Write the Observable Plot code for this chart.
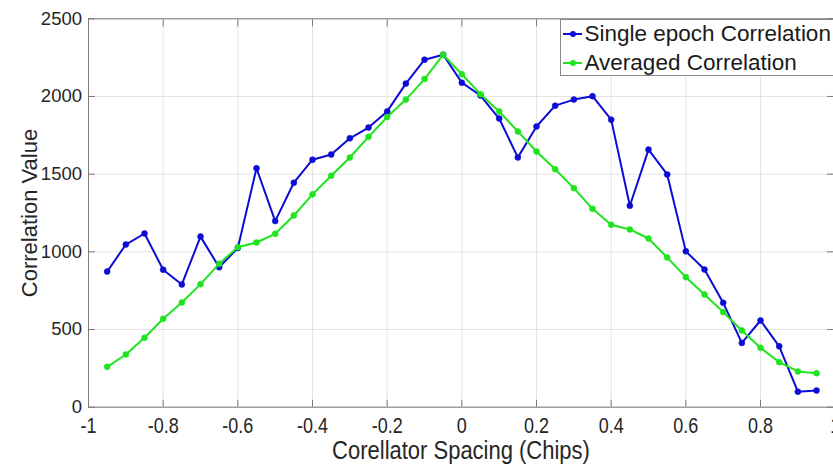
<!DOCTYPE html>
<html>
<head>
<meta charset="utf-8">
<script src="https://cdn.jsdelivr.net/npm/d3@7"></script>
<script src="https://cdn.jsdelivr.net/npm/@observablehq/plot@0.6"></script>
<style>
  html, body { margin: 0; padding: 0; background: #fff; overflow: hidden; }
  #wrap { position: relative; width: 833px; height: 466px; overflow: hidden; }
  #wrap svg { font-family: "Liberation Sans", Arial, sans-serif; }
  .legend {
    position: absolute; left: 559.5px; top: 18.5px; width: 300px; height: 57px;
    border: 1px solid #8a8a8a; background: #fff; box-sizing: border-box;
    font-family: "Liberation Sans", Arial, sans-serif; font-size: 22.5px; color: #1a1a1a;
  }
  .legend .row { position: absolute; left: 0; height: 28px; display: flex; align-items: center; white-space: nowrap; }
  .legend svg { display: block; margin-left: 1px; margin-right: 3px; }
</style>
</head>
<body>
<div id="wrap"></div>
<script>
// Correlator spacing in chips
const spacing = [-0.95, -0.9, -0.85, -0.8, -0.75, -0.7, -0.65, -0.6, -0.55, -0.5, -0.45, -0.4, -0.35, -0.3, -0.25, -0.2, -0.15, -0.1, -0.05,
  0, 0.05, 0.1, 0.15, 0.2, 0.25, 0.3, 0.35, 0.4, 0.45, 0.5, 0.55, 0.6, 0.65, 0.7, 0.75, 0.8, 0.85, 0.9, 0.95];
// Correlation from a single epoch
const single = [873, 1047, 1118, 885, 790, 1098, 901, 1025, 1538, 1198, 1445, 1593, 1626, 1731, 1800, 1904, 2083, 2237, 2269,
  2089, 2006, 1858, 1608, 1807, 1941, 1980, 2002, 1851, 1297, 1658, 1498, 1003, 886, 672, 414, 558, 392, 100, 107];
// Correlation averaged over epochs
const averaged = [260, 339, 447, 569, 674, 792, 923, 1030, 1060, 1116, 1234, 1370, 1490, 1607, 1740, 1868, 1980, 2112, 2269,
  2143, 2015, 1903, 1775, 1646, 1532, 1410, 1277, 1174, 1144, 1086, 964, 837, 725, 612, 494, 382, 290, 230, 219];

const xTicks = [-1, -0.8, -0.6, -0.4, -0.2, 0, 0.2, 0.4, 0.6, 0.8, 1];
const yTicks = [0, 500, 1000, 1500, 2000, 2500];
const seriesNames = ["Single epoch Correlation", "Averaged Correlation"];
const colors = ["#0c0cd6", "#1ee41e"];
const xTitle = "Corellator Spacing (Chips)";
const yTitle = "Correlation Value";

const singleRows = spacing.map((x, i) => ({x, y: single[i]}));
const avgRows = spacing.map((x, i) => ({x, y: averaged[i]}));

const axisColor = "#7a7a7a";
const textColor = "#262626";

const chart = Plot.plot({
  width: 833,
  height: 466,
  marginTop: 18.3,
  marginBottom: 59.3,
  marginLeft: 88,
  marginRight: 0,
  style: {fontFamily: "Liberation Sans, Arial, sans-serif", color: textColor, background: "#fff"},
  x: {domain: [-1, 1], range: [88, 834.7]},
  y: {domain: [0, 2500]},
  marks: [
    Plot.gridX(xTicks, {stroke: "#e4e4e4", strokeOpacity: 1}),
    Plot.gridY(yTicks, {stroke: "#e4e4e4", strokeOpacity: 1}),
    // box
    Plot.ruleY([0, 2500], {stroke: axisColor}),
    Plot.ruleX([-1, 1], {stroke: axisColor}),
    // inward ticks on all four sides
    Plot.axisX(xTicks, {anchor: "bottom", tickSize: -7, fill: "none", stroke: axisColor, label: null}),
    Plot.axisX(xTicks, {anchor: "top", tickSize: -7, fill: "none", stroke: axisColor, label: null}),
    Plot.axisY(yTicks, {anchor: "left", tickSize: -7, fill: "none", stroke: axisColor, label: null}),
    Plot.axisY(yTicks, {anchor: "right", tickSize: -7, fill: "none", stroke: axisColor, label: null}),
    // tick labels
    Plot.axisX(xTicks, {anchor: "bottom", tickSize: 0, tickPadding: 10, stroke: "none", fill: textColor, fontSize: 18, label: null, tickFormat: d => String(d)}),
    Plot.axisY(yTicks, {anchor: "left", tickSize: 0, tickPadding: 6.5, stroke: "none", fill: textColor, fontSize: 18.5, label: null, tickFormat: d => String(d)}),
    // series
    Plot.line(singleRows, {x: "x", y: "y", stroke: colors[0], strokeWidth: 2}),
    Plot.dot(singleRows, {x: "x", y: "y", r: 3, fill: colors[0], stroke: colors[0], strokeWidth: 0.5}),
    Plot.line(avgRows, {x: "x", y: "y", stroke: colors[1], strokeWidth: 2}),
    Plot.dot(avgRows, {x: "x", y: "y", r: 3, fill: colors[1], stroke: colors[1], strokeWidth: 0.5}),
    // axis titles
    Plot.text([xTitle], {frameAnchor: "bottom", dy: 33, lineAnchor: "top", textAnchor: "middle", fontSize: 22, fill: textColor}),
    Plot.text([yTitle], {frameAnchor: "left", dx: -59, rotate: -90, lineAnchor: "middle", textAnchor: "middle", fontSize: 22, fill: textColor})
  ]
});

const wrap = document.getElementById("wrap");
wrap.appendChild(chart);

// the bottom tick labels and the x title are drawn a little taller than wide
const stretch = t => {
  const tr = t.getAttribute("transform");
  if (tr) {
    t.setAttribute("transform", tr + " scale(1,1.2)");
  } else {
    const x = t.getAttribute("x") || 0, y = t.getAttribute("y") || 0;
    t.removeAttribute("x"); t.removeAttribute("y");
    t.setAttribute("transform", `translate(${x},${y}) scale(1,1.2)`);
  }
};
chart.querySelectorAll('g[aria-label="x-axis tick label"] text').forEach(stretch);
chart.querySelectorAll("text").forEach(t => { if (t.textContent === xTitle) stretch(t); });

// legend
const legend = document.createElement("div");
legend.className = "legend";
seriesNames.forEach((name, i) => {
  const row = document.createElement("div");
  row.className = "row";
  row.style.top = (i === 0 ? 0.5 : 29) + "px";
  row.innerHTML = `<svg width="20" height="10"><line x1="1" y1="5" x2="20" y2="5" stroke="${colors[i]}" stroke-width="2"/><circle cx="11" cy="5" r="3" fill="${colors[i]}"/></svg><span>${name}</span>`;
  legend.appendChild(row);
});
wrap.appendChild(legend);
</script>
</body>
</html>
